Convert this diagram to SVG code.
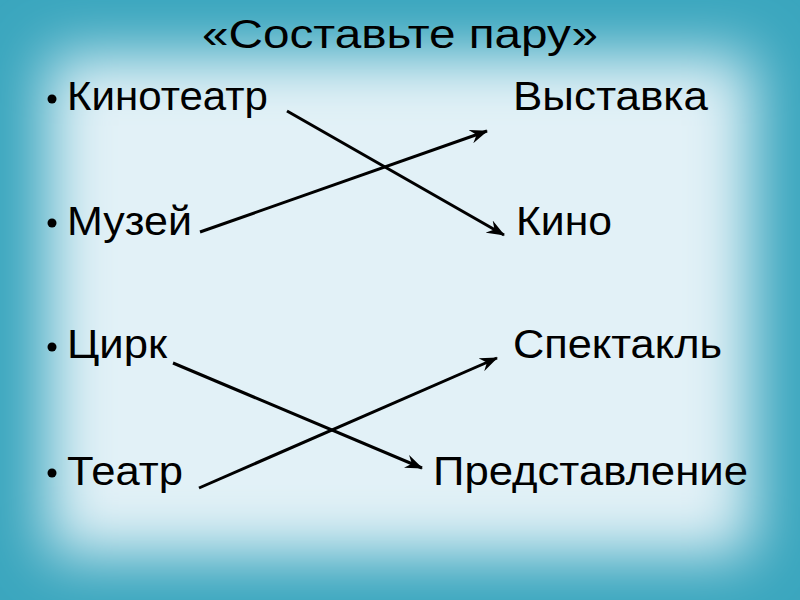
<svg xmlns="http://www.w3.org/2000/svg" width="800" height="600" viewBox="0 0 800 600">
<defs>
<filter id="blur" x="-20%" y="-20%" width="140%" height="140%"><feGaussianBlur stdDeviation="30"/></filter>
<marker id="arr" viewBox="0 0 18 14" refX="17" refY="7" markerWidth="18" markerHeight="14" markerUnits="userSpaceOnUse" orient="auto">
<path d="M0,0 L18,7 L0,14 L6,7 Z" fill="#000"/>
</marker>
<style>
.t{font-family:"Liberation Sans",Arial,sans-serif;font-size:41px;fill:#000}
.title{font-family:"Liberation Sans",Arial,sans-serif;font-size:40px;fill:#000}
.c{stroke:#000;stroke-width:3;fill:none;marker-end:url(#arr)}
</style>
</defs>
<rect width="800" height="600" fill="#3aa6be"/>
<rect x="48" y="55" width="704" height="500" fill="#e2f1f7" filter="url(#blur)"/>
<g id="title"><text class="title" x="400" y="48" text-anchor="middle" textLength="396" lengthAdjust="spacingAndGlyphs">«Составьте пару»</text></g>
<g id="n-kinoteatr"><circle cx="52" cy="99" r="4.5"/><text class="t" x="67" y="110" textLength="201" lengthAdjust="spacingAndGlyphs">Кинотеатр</text></g>
<g id="n-muzey"><circle cx="52" cy="223" r="4.5"/><text class="t" x="67" y="235" textLength="125" lengthAdjust="spacingAndGlyphs">Музей</text></g>
<g id="n-tsirk"><circle cx="52" cy="347" r="4.5"/><text class="t" x="67" y="358" textLength="100" lengthAdjust="spacingAndGlyphs">Цирк</text></g>
<g id="n-teatr"><circle cx="52" cy="473" r="4.5"/><text class="t" x="67" y="485" textLength="116" lengthAdjust="spacingAndGlyphs">Театр</text></g>
<g id="n-vystavka"><text class="t" x="513" y="110" textLength="195" lengthAdjust="spacingAndGlyphs">Выставка</text></g>
<g id="n-kino"><text class="t" x="516" y="235" textLength="96" lengthAdjust="spacingAndGlyphs">Кино</text></g>
<g id="n-spektakl"><text class="t" x="513" y="358" textLength="209" lengthAdjust="spacingAndGlyphs">Спектакль</text></g>
<g id="n-predstavlenie"><text class="t" x="433" y="485" textLength="315" lengthAdjust="spacingAndGlyphs">Представление</text></g>
<g id="connectors">
<line class="c" x1="287" y1="111" x2="504" y2="235"/>
<line class="c" x1="200" y1="232" x2="487" y2="131"/>
<line class="c" x1="173" y1="363" x2="422" y2="468"/>
<line class="c" x1="199" y1="488" x2="497" y2="358"/>
</g>
</svg>
